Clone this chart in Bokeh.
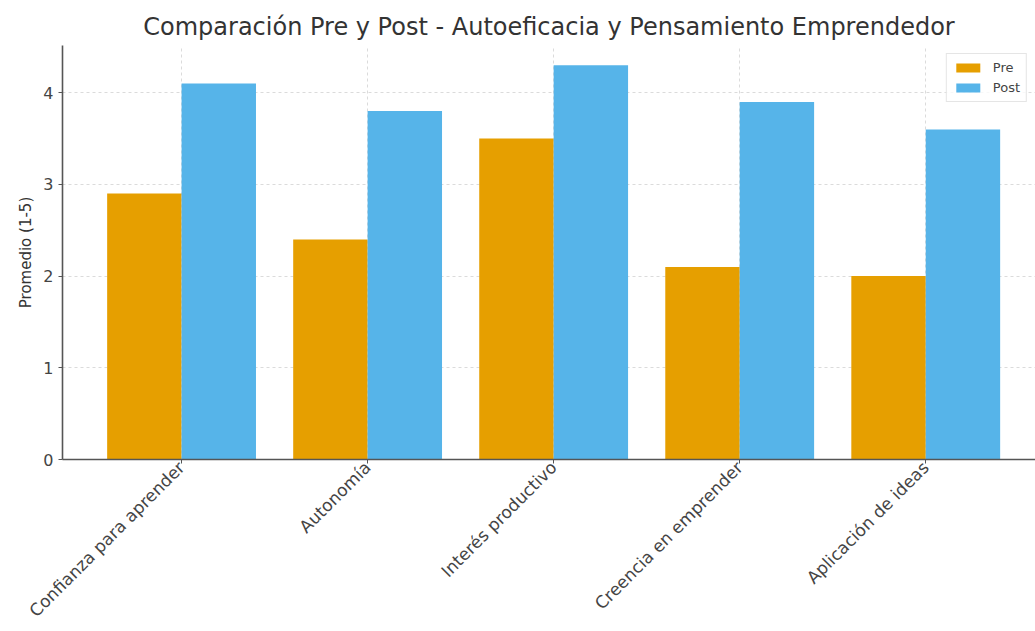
import math
from bokeh.plotting import figure
from bokeh.models import Range1d, FixedTicker, Legend, LegendItem
from bokeh.embed import file_html
from bokeh.resources import INLINE

categories = ["Confianza para aprender", "Autonomía", "Interés productivo",
              "Creencia en emprender", "Aplicación de ideas"]
pre = [2.9, 2.4, 3.5, 2.1, 2.0]
post = [4.1, 3.8, 4.3, 3.9, 3.6]

FONT = "DejaVu Sans"
idx = list(range(len(categories)))

p = figure(width=1035, height=631, output_backend="svg", toolbar_location=None,
           x_range=Range1d(-0.64, 4.59), y_range=Range1d(0, 4.515),
           min_border_left=62, min_border_right=0, min_border_top=45,
           min_border_bottom=172)

p.title.text = "Comparación Pre y Post - Autoeficacia y Pensamiento Emprendedor"
p.title.align = "center"
p.title.text_font = FONT
p.title.text_font_size = "24px"
p.title.text_font_style = "normal"
p.title.text_color = "#333333"

r_pre = p.vbar(x=[i - 0.2 for i in idx], top=pre, width=0.4, bottom=0,
               fill_color="#E69F00", line_color=None)
r_post = p.vbar(x=[i + 0.2 for i in idx], top=post, width=0.4, bottom=0,
                fill_color="#56B4E9", line_color=None)

p.outline_line_color = None

p.xaxis.ticker = FixedTicker(ticks=idx)
p.xaxis.major_label_overrides = {i: c for i, c in zip(idx, categories)}
p.xaxis.major_label_orientation = math.pi / 4
p.xaxis.major_label_text_font_size = "17px"
p.xaxis.major_label_standoff = 1
p.yaxis.ticker = FixedTicker(ticks=[0, 1, 2, 3, 4])
p.yaxis.axis_label = "Promedio (1-5)"
p.yaxis.major_label_text_font_size = "16px"

for ax in (p.xaxis, p.yaxis):
    ax.axis_line_color = "#555555"
    ax.axis_line_width = 1.6
    ax.major_tick_line_color = "#555555"
    ax.major_tick_in = 0
    ax.major_tick_out = 4
    ax.minor_tick_line_color = None
    ax.major_label_text_font = FONT
    ax.major_label_text_color = "#444444"
    ax.axis_label_text_font = FONT
    ax.axis_label_text_font_size = "15px"
    ax.axis_label_text_font_style = "normal"
    ax.axis_label_text_color = "#333333"

p.xgrid.grid_line_color = "#cccccc"
p.xgrid.grid_line_dash = "3 3"
p.xgrid.grid_line_alpha = 0.7
p.ygrid.grid_line_color = "#cccccc"
p.ygrid.grid_line_dash = "3 3"
p.ygrid.grid_line_alpha = 0.7

legend = Legend(items=[LegendItem(label="Pre", renderers=[r_pre]),
                       LegendItem(label="Post", renderers=[r_post])],
                location="top_right")
legend.label_text_font = FONT
legend.label_text_font_size = "13px"
legend.label_text_color = "#444444"
legend.glyph_width = 30
legend.glyph_height = 11
legend.label_standoff = 10
legend.spacing = 5
legend.padding = 6
legend.margin = 8
legend.border_line_color = "#cccccc"
legend.background_fill_alpha = 0.8
p.add_layout(legend)

open("out.html", "w").write(file_html(p, INLINE))
